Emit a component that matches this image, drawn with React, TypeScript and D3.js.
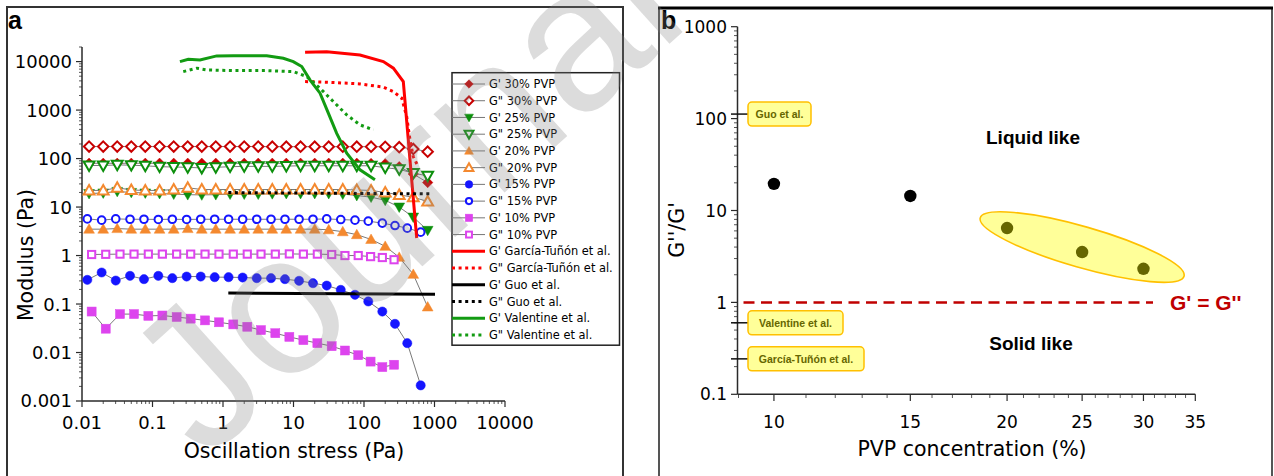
import * as d3 from 'd3';
import React from 'react';

// ---- panel a data ----
// stress grid shared by the 30 / 25 / 20 % samples
const stressHigh = [0.0126, 0.02, 0.0316, 0.05, 0.079, 0.126, 0.2, 0.316, 0.5, 0.79, 1.26, 2, 3.16, 5, 7.9, 12.6, 20, 31.6, 50, 79, 126, 200, 316, 500, 800];
const stress15 = [0.0119, 0.019, 0.0301, 0.048, 0.0757, 0.121, 0.191, 0.305, 0.483, 0.762, 1.2, 1.9, 3.01, 4.8, 7.57, 12, 18.9, 29.6, 46.8, 74.5, 115, 182, 275, 411, 637];
const stress10 = [0.0137, 0.0217, 0.0346, 0.0547, 0.0873, 0.138, 0.22, 0.348, 0.556, 0.877, 1.4, 2.21, 3.46, 5.52, 8.73, 13.8, 21.8, 34.8, 53.7, 82.8, 124, 182, 267];

const g1_30 = [80, 80, 80, 80, 80, 80, 80, 80, 80, 80, 80, 80, 80, 80, 80, 80, 80, 80, 80, 80, 79, 78, 68, 48, 32];
const g2_30 = [177, 177, 177, 177, 177, 177, 177, 177, 177, 177, 177, 177, 177, 176, 176, 176, 176, 176, 176, 176, 176, 175, 172, 158, 139];
const g1_25 = [19, 19.5, 21, 20, 19.5, 19, 18.5, 18, 17.8, 18, 18.5, 18.5, 18.5, 18.8, 19, 19, 19, 19, 18.5, 17.3, 16, 13.8, 10, 6.2, 3.3];
const g2_25 = [72, 72, 74, 73, 71, 68, 67, 66, 64, 66, 68, 69, 69, 69, 70, 71, 71, 71, 71, 71, 71, 65, 60, 50, 44];
const g1_20 = [3.5, 3.5, 3.6, 3.5, 3.5, 3.5, 3.5, 3.6, 3.5, 3.5, 3.5, 3.5, 3.5, 3.5, 3.5, 3.5, 3.5, 3.4, 3.1, 2.7, 2.15, 1.55, 0.92, 0.41, 0.087];
const g2_20 = [22, 22, 25, 22.5, 22, 22, 23, 25, 23, 23, 23, 23, 23, 23, 23, 23, 23, 23, 23, 22.5, 22, 20, 17.8, 16, 13];
const g1_15 = [0.315, 0.447, 0.305, 0.381, 0.326, 0.381, 0.342, 0.369, 0.369, 0.358, 0.358, 0.352, 0.342, 0.342, 0.326, 0.301, 0.269, 0.24, 0.196, 0.155, 0.113, 0.07, 0.039, 0.0156, 0.0021];
const g2_15 = [5.7, 5.37, 5.7, 5.6, 5.6, 5.55, 5.6, 5.55, 5.6, 5.6, 5.6, 5.6, 5.6, 5.6, 5.6, 5.6, 5.6, 5.7, 5.52, 5.37, 5.12, 4.66, 4.16, 3.67, 3.04];
const g1_10 = [0.07, 0.031, 0.062, 0.062, 0.057, 0.058, 0.054, 0.05, 0.046, 0.042, 0.038, 0.034, 0.029, 0.025, 0.021, 0.018, 0.0156, 0.0135, 0.011, 0.0088, 0.0065, 0.005, 0.0056];
const g2_10 = [1.05, 1.06, 1.07, 1.07, 1.07, 1.07, 1.07, 1.07, 1.07, 1.07, 1.07, 1.07, 1.07, 1.07, 1.08, 1.07, 1.07, 1.05, 1.0, 1.0, 0.95, 0.91, 0.82];

// literature curves
const garciaG1x = [14.6, 29.6, 87.7, 188, 261, 361, 559];
const garciaG1y = [15600, 16000, 13700, 10000, 7310, 3870, 2.3];
const garciaG2x = [14.6, 29.6, 87.7, 188, 261, 343, 403, 449, 500, 570];
const garciaG2y = [3870, 3760, 3470, 2970, 2410, 1760, 735, 243, 110, 74];
const guoG1x = [1.19, 1016];
const guoG1y = [0.168, 0.16];
const guoG2x = [1.19, 950];
const guoG2y = [19.9, 18.7];
const valG1x = [0.245, 0.322, 0.472, 0.814, 1.4, 4.17, 7.17, 9.93, 13.1, 17.1, 23.8, 31.2, 41, 56.9, 87.8, 143];
const valG1y = [10000, 11200, 10800, 13100, 13200, 13200, 11700, 10000, 7900, 4200, 2230, 863, 331, 129, 58.5, 36.4];
const valG2x = [0.273, 0.424, 0.587, 1.4, 4.17, 9.93, 15.4, 23.8, 36.7, 56.9, 87.8, 136];
const valG2y = [6220, 7310, 6740, 6520, 6520, 6220, 4910, 2820, 1500, 796, 495, 391];

const xTicksA = [0.01, 0.1, 1, 10, 100, 1000, 10000];
const yTicksA = [0.001, 0.01, 0.1, 1, 10, 100, 1000, 10000];

// ---- panel b data ----
const concentrations = [10, 15, 20, 25, 30];
const ratios = [19.5, 14.4, 6.44, 3.53, 2.32];
const refNames = ['Guo et al.', 'Valentine et al.', 'García-Tuñón et al.'];
const refRatios = [112, 0.6, 0.243];
const refBoxW = [63, 95, 116];
const xTicksB = [10, 15, 20, 25, 30, 35];
const yTicksB = [0.1, 1, 10, 100, 1000];

const RED = '#c80000', GREEN = '#0c8f0c', ORANGE = '#f4892f', BLUE = '#1515ff', MAG = '#dd44ee';

type Shape = 'diamond' | 'tdown' | 'tup' | 'circle' | 'square';

const Marker = ({ shape, x, y, color, filled, s = 1 }: { shape: Shape; x: number; y: number; color: string; filled: boolean; s?: number }) => {
  const fill = filled ? color : '#fff';
  const sw = filled ? 0.5 : 2;
  if (shape === 'diamond') {
    const r = 5.2 * s;
    return <polygon points={`${x},${y - r} ${x + r},${y} ${x},${y + r} ${x - r},${y}`} fill={fill} stroke={color} strokeWidth={sw} />;
  }
  if (shape === 'tdown') {
    const r = 5.4 * s;
    return <polygon points={`${x - r},${y - r * 0.75} ${x + r},${y - r * 0.75} ${x},${y + r}`} fill={fill} stroke={color} strokeWidth={sw} />;
  }
  if (shape === 'tup') {
    const r = 5.4 * s;
    return <polygon points={`${x - r},${y + r * 0.75} ${x + r},${y + r * 0.75} ${x},${y - r}`} fill={fill} stroke={color} strokeWidth={sw} />;
  }
  if (shape === 'circle') {
    return <circle cx={x} cy={y} r={(filled ? 4.6 : 3.8) * s} fill={fill} stroke={color} strokeWidth={sw} />;
  }
  const h = (filled ? 4.5 : 3.6) * s;
  return <rect x={x - h} y={y - h} width={2 * h} height={2 * h} fill={fill} stroke={color} strokeWidth={sw} />;
};

const series = [
  { label: "G' 30% PVP", xs: stressHigh, ys: g1_30, shape: 'diamond' as Shape, color: RED, filled: true },
  { label: 'G" 30% PVP', xs: stressHigh, ys: g2_30, shape: 'diamond' as Shape, color: RED, filled: false },
  { label: "G' 25% PVP", xs: stressHigh, ys: g1_25, shape: 'tdown' as Shape, color: GREEN, filled: true },
  { label: 'G" 25% PVP', xs: stressHigh, ys: g2_25, shape: 'tdown' as Shape, color: GREEN, filled: false },
  { label: "G' 20% PVP", xs: stressHigh, ys: g1_20, shape: 'tup' as Shape, color: ORANGE, filled: true },
  { label: 'G" 20% PVP', xs: stressHigh, ys: g2_20, shape: 'tup' as Shape, color: ORANGE, filled: false },
  { label: "G' 15% PVP", xs: stress15, ys: g1_15, shape: 'circle' as Shape, color: BLUE, filled: true },
  { label: 'G" 15% PVP', xs: stress15, ys: g2_15, shape: 'circle' as Shape, color: BLUE, filled: false },
  { label: "G' 10% PVP", xs: stress10, ys: g1_10, shape: 'square' as Shape, color: MAG, filled: true },
  { label: 'G" 10% PVP', xs: stress10, ys: g2_10, shape: 'square' as Shape, color: MAG, filled: false },
];

const refLines = [
  { label: "G' García-Tuñón et al.", xs: garciaG1x, ys: garciaG1y, color: '#ff0000', dotted: false },
  { label: 'G" García-Tuñón et al.', xs: garciaG2x, ys: garciaG2y, color: '#ff0000', dotted: true },
  { label: "G' Guo et al.", xs: guoG1x, ys: guoG1y, color: '#000', dotted: false },
  { label: 'G" Guo et al.', xs: guoG2x, ys: guoG2y, color: '#000', dotted: true },
  { label: "G' Valentine et al.", xs: valG1x, ys: valG1y, color: '#129b12', dotted: false },
  { label: 'G" Valentine et al.', xs: valG2x, ys: valG2y, color: '#129b12', dotted: true },
];

const minorLog = (lo: number, hi: number) => {
  const out: number[] = [];
  for (let e = Math.floor(Math.log10(lo)); e <= Math.ceil(Math.log10(hi)); e++) {
    for (let m = 2; m <= 9; m++) {
      const v = m * Math.pow(10, e);
      if (v >= lo && v <= hi) out.push(v);
    }
  }
  return out;
};

const FONT = 'DejaVu Sans, Verdana, sans-serif';

export default function App() {
  // panel a scales
  const xA = d3.scaleLog().domain([0.01, 10000]).range([82, 505]);
  const yA = d3.scaleLog().domain([0.001, 20000]).range([401, 47]);
  const lineA = (xs: number[], ys: number[]) =>
    d3.line<number>().x((_, i) => xA(xs[i])).y((d) => yA(d))(ys) || '';

  // panel b scales
  const xB = d3.scaleLog().domain([9, 35]).range([738.5, 1195.3]);
  const yB = d3.scaleLog().domain([0.1, 1000]).range([394.3, 26.7]);

  const axisCol = '#2a2a2a';
  const legX = 452, legY = 84, legStep = 16.73;
  const ell = { cx: xB(25), cy: yB(4.0) };

  return (
    <svg width={1274} height={476} style={{ position: 'absolute', left: 0, top: 0, background: '#fff' }} fontFamily={FONT}>
      <rect width={1274} height={476} fill="#fff" />
      {/* frames */}
      <rect x={7} y={7} width={616} height={480} fill="none" stroke="#333" strokeWidth={2} />
      <rect x={659} y={8} width={613} height={480} fill="none" stroke="#555" strokeWidth={2} />
      <line x1={658} x2={1273} y1={8} y2={8} stroke="#000" strokeWidth={3} />
      <text x={8} y={29} fontSize={25} fontWeight="bold" fontFamily="Liberation Sans, Arial">a</text>
      <text x={661} y={29} fontSize={25} fontWeight="bold" fontFamily="Liberation Sans, Arial">b</text>

      {/* ---- panel a ---- */}
      <g>
        {/* axes */}
        <line x1={82} x2={82} y1={47} y2={401} stroke={axisCol} strokeWidth={1.5} />
        <line x1={82} x2={505} y1={401} y2={401} stroke={axisCol} strokeWidth={1.5} />
        {yTicksA.map((t) => (
          <g key={'ya' + t}>
            <line x1={76} x2={82} y1={yA(t)} y2={yA(t)} stroke={axisCol} strokeWidth={1.2} />
            <text x={72} y={yA(t)} dy="0.36em" textAnchor="end" fontSize={18}>{String(t)}</text>
          </g>
        ))}
        {minorLog(0.001, 20000).map((t) => (
          <line key={'yam' + t} x1={79} x2={82} y1={yA(t)} y2={yA(t)} stroke={axisCol} strokeWidth={0.8} />
        ))}
        {xTicksA.map((t) => (
          <g key={'xa' + t}>
            <line x1={xA(t)} x2={xA(t)} y1={401} y2={407} stroke={axisCol} strokeWidth={1.2} />
            <text x={xA(t)} y={429} textAnchor="middle" fontSize={18}>{String(t)}</text>
          </g>
        ))}
        {minorLog(0.01, 10000).map((t) => (
          <line key={'xam' + t} x1={xA(t)} x2={xA(t)} y1={401} y2={404} stroke={axisCol} strokeWidth={0.8} />
        ))}
        <text x={294} y={458} textAnchor="middle" fontSize={20.5}>Oscillation stress (Pa)</text>
        <text transform="translate(33,255) rotate(-90)" textAnchor="middle" fontSize={20.5}>Modulus (Pa)</text>

        {/* sample series */}
        {series.map((s, si) => (
          <g key={'s' + si}>
            <path d={lineA(s.xs, s.ys)} fill="none" stroke="#6a6a6a" strokeWidth={0.9} />
            {s.ys.map((v, i) => (
              <Marker key={i} shape={s.shape} x={xA(s.xs[i])} y={yA(v)} color={s.color} filled={s.filled} />
            ))}
          </g>
        ))}
        {/* literature curves */}
        {refLines.map((r, ri) => (
          <path key={'r' + ri} d={lineA(r.xs, r.ys)} fill="none" stroke={r.color} strokeWidth={3}
            strokeDasharray={r.dotted ? '3 3.6' : undefined} />
        ))}

        {/* legend */}
        <rect x={452} y={72.7} width={167.5} height={272.5} fill="#fff" stroke="#222" strokeWidth={1.5} />
        {series.map((s, i) => (
          <g key={'ls' + i}>
            <line x1={legX} x2={legX + 33} y1={legY + i * legStep} y2={legY + i * legStep} stroke="#777" strokeWidth={1} />
            <Marker shape={s.shape} x={legX + 17} y={legY + i * legStep} color={s.color} filled={s.filled} s={0.82} />
            <text x={489} y={legY + i * legStep} dy="0.36em" fontSize={11.4}>{s.label}</text>
          </g>
        ))}
        {refLines.map((r, j) => {
          const yy = legY + (series.length + j) * legStep;
          return (
            <g key={'lr' + j}>
              <line x1={legX} x2={legX + 33} y1={yy} y2={yy} stroke={r.color} strokeWidth={3}
                strokeDasharray={r.dotted ? '3 3.6' : undefined} />
              <text x={489} y={yy} dy="0.36em" fontSize={11.4}>{r.label}</text>
            </g>
          );
        })}
      </g>

      {/* ---- panel b ---- */}
      <g>
        <line x1={737.5} x2={737.5} y1={26.7} y2={394.3} stroke={axisCol} strokeWidth={1.5} />
        <line x1={737.5} x2={1195.3} y1={394.3} y2={394.3} stroke={axisCol} strokeWidth={1.5} />
        {yTicksB.map((t) => (
          <g key={'yb' + t}>
            <line x1={731} x2={737.5} y1={yB(t)} y2={yB(t)} stroke={axisCol} strokeWidth={1.2} />
            <text x={727} y={yB(t)} dy="0.36em" textAnchor="end" fontSize={17}>{String(t)}</text>
          </g>
        ))}
        {minorLog(0.1, 1000).map((t) => (
          <line key={'ybm' + t} x1={734} x2={737.5} y1={yB(t)} y2={yB(t)} stroke={axisCol} strokeWidth={0.8} />
        ))}
        {xTicksB.map((t) => (
          <g key={'xb' + t}>
            <line x1={xB(t)} x2={xB(t)} y1={394.3} y2={401} stroke={axisCol} strokeWidth={1.2} />
            <text x={xB(t)} y={428} textAnchor="middle" fontSize={17}>{String(t)}</text>
          </g>
        ))}
        {d3.range(9, 35).filter((t) => !xTicksB.includes(t)).map((t) => (
          <line key={'xbm' + t} x1={xB(t)} x2={xB(t)} y1={394.3} y2={398} stroke={axisCol} strokeWidth={0.8} />
        ))}
        <text x={972} y={456} textAnchor="middle" fontSize={20.5}>PVP concentration (%)</text>
        <text transform="translate(684,230) rotate(-90)" textAnchor="middle" fontSize={20.5}>G''/G'</text>

        {/* G' = G'' */}
        <line x1={743.5} x2={1153} y1={yB(1)} y2={yB(1)} stroke="#c00000" strokeWidth={2.5} strokeDasharray="11 6.5" />
        <text x={1170} y={yB(1)} dy="0.36em" fontSize={21} fontWeight="bold" fill="#c00000" fontFamily="Liberation Sans, Arial">G' = G''</text>
        <text x={1033} y={137} dy="0.36em" textAnchor="middle" fontSize={19} fontWeight="bold" fontFamily="Liberation Sans, Arial">Liquid like</text>
        <text x={1031} y={343} dy="0.36em" textAnchor="middle" fontSize={19} fontWeight="bold" fontFamily="Liberation Sans, Arial">Solid like</text>

        {/* literature ratio markers */}
        {refNames.map((n, i) => (
          <g key={'rb' + i}>
            <line x1={731} x2={748} y1={yB(refRatios[i])} y2={yB(refRatios[i])} stroke="#111" strokeWidth={1.5} />
            <rect x={748} y={yB(refRatios[i]) - 12} width={refBoxW[i]} height={24} rx={4} fill="#ffff99" stroke="#ffc000" strokeWidth={1.5} />
            <text x={748 + refBoxW[i] / 2} y={yB(refRatios[i])} dy="0.36em" textAnchor="middle" fontSize={10.5} fontWeight="bold" fill="#666600" fontFamily="Liberation Sans, Arial">{n}</text>
          </g>
        ))}

        {/* data */}
        {concentrations.map((c, i) => (
          <circle key={'pb' + c} cx={xB(c)} cy={yB(ratios[i])} r={6.2} fill="#000" />
        ))}
        <ellipse cx={ell.cx} cy={ell.cy} rx={106} ry={20.5} transform={`rotate(16 ${ell.cx} ${ell.cy})`}
          fill="#ffff00" fillOpacity={0.4} stroke="#ffc000" strokeWidth={1.6} />
      </g>

      {/* watermark */}
      <text transform="translate(205,462) rotate(-42)" fontSize={200} fontFamily="Liberation Sans, Arial" fill="#808080" fillOpacity={0.28}>Journal Pre-proof</text>
    </svg>
  );
}
